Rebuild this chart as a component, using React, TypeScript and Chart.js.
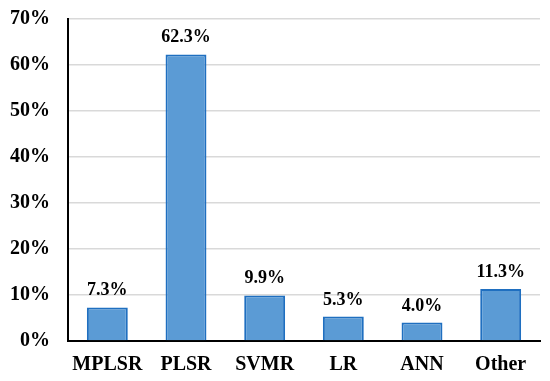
import React, { useEffect, useRef } from "react";
import { Chart, registerables } from "chart.js";

Chart.register(...registerables);

const categories = ["MPLSR", "PLSR", "SVMR", "LR", "ANN", "Other"];
const values = [7.3, 62.3, 9.9, 5.3, 4.0, 11.3];
const yTicks = [0, 10, 20, 30, 40, 50, 60, 70];

const FONT = "'Liberation Serif', 'Times New Roman', serif";

const labelPlugin = {
  id: "barLabels",
  afterDatasetsDraw(chart: any) {
    const ctx = chart.ctx;
    const meta = chart.getDatasetMeta(0);
    ctx.save();
    ctx.font = `bold 18px ${FONT}`;
    ctx.fillStyle = "#000";
    ctx.textAlign = "center";
    ctx.textBaseline = "alphabetic";
    meta.data.forEach((el: any, i: number) => {
      ctx.fillText(values[i].toFixed(1) + "%", el.x, el.y - 12);
    });
    ctx.restore();
  },
};

export default function App() {
  const ref = useRef<HTMLCanvasElement>(null);
  useEffect(() => {
    document.body.style.margin = "0";
    const chart = new Chart(ref.current!, {
      type: "bar",
      data: {
        labels: categories,
        datasets: [
          {
            data: values,
            backgroundColor: "#5B9BD5",
            borderColor: "#1F6FC0",
            borderWidth: 2,
            barPercentage: 0.52,
            categoryPercentage: 1,
          },
        ],
      },
      options: {
        animation: false,
        responsive: false,
        layout: { padding: { top: 19, right: 10, bottom: 0, left: 0 } },
        plugins: { legend: { display: false }, tooltip: { enabled: false } },
        scales: {
          x: {
            afterFit(axis: any) {
              axis.height = 40;
            },
            grid: { display: false, drawTicks: false },
            border: { color: "#000", width: 2 },
            ticks: {
              color: "#000",
              font: { family: FONT, size: 20, weight: "bold" },
              padding: 12,
            },
          },
          y: {
            min: 0,
            max: 70,
            afterFit(axis: any) {
              axis.width = 68;
              axis.paddingTop = 0;
              axis.paddingBottom = 0;
            },
            afterBuildTicks(axis: any) {
              axis.ticks = yTicks.map((v) => ({ value: v }));
            },
            grid: { color: "#d9d9d9", lineWidth: 1.5, drawTicks: false },
            border: { color: "#000", width: 2 },
            ticks: {
              color: "#000",
              font: { family: FONT, size: 20, weight: "bold" },
              padding: 18,
              callback: (v: any) => v + "%",
            },
          },
        },
      },
      plugins: [labelPlugin],
    });
    return () => chart.destroy();
  }, []);
  return <canvas ref={ref} width={550} height={381} />;
}
